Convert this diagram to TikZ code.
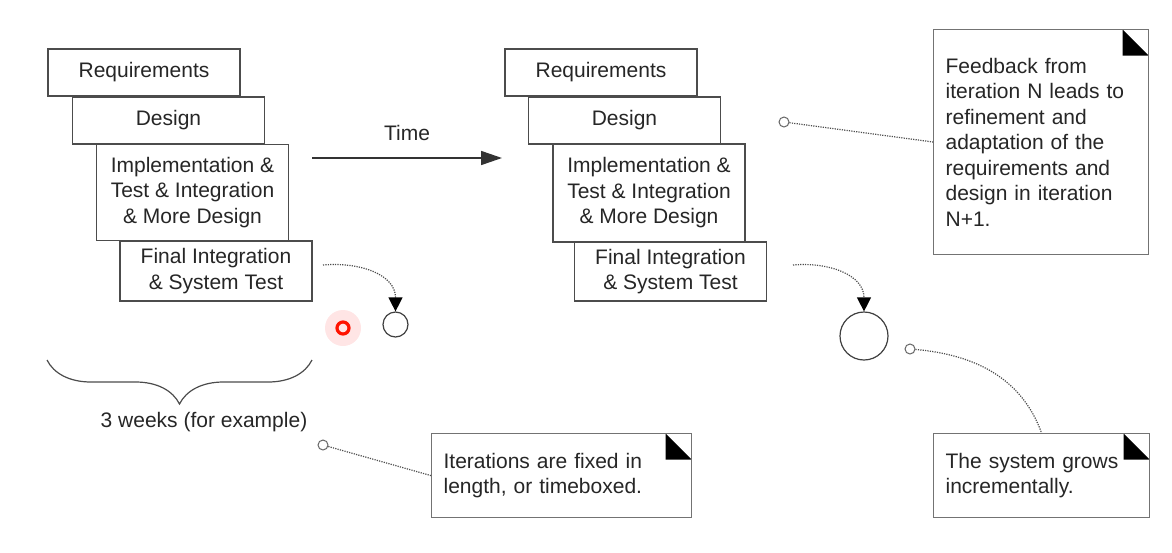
\documentclass[tikz,border=0pt]{standalone}
\usepackage{fontspec}
\setmainfont{Liberation Sans}
\usetikzlibrary{arrows.meta,positioning,calc,decorations.pathreplacing}

\tikzset{
  phase/.style={draw=black!70, line width=0.6pt, fill=white, text=black!85,
    minimum width=96pt, align=center, inner sep=2pt},
  notebox/.style={draw=black!55, line width=0.6pt, fill=white, text=black!85,
    align=left, inner sep=6pt, anchor=north west,
    path picture={\fill[black] ([xshift=-13pt]path picture bounding box.north east)
      -- ([xshift=-13pt,yshift=-13pt]path picture bounding box.north east)
      -- ([yshift=-13pt]path picture bounding box.north east) -- cycle;}},
  link/.style={black!70, line width=0.6pt, dash pattern=on 0.6pt off 0.6pt},
  notedot/.style={circle, draw=black!60, line width=0.5pt, fill=white,
    minimum size=5pt, inner sep=0pt},
  increment/.style={circle, draw=black!75, line width=0.6pt, inner sep=0pt},
}

\begin{document}
\begin{tikzpicture}[x=0.5pt, y=-0.5pt, font=\fontsize{10.5}{12.75}\selectfont]
    \useasboundingbox (0,0) rectangle (1172,552);

    % Iteration N
    \node[phase, minimum height=23.5pt] (reqA) at (144,72.5) {Requirements};
    \node[phase, minimum height=23.5pt] (desA) at (168.5,120.5) {Design};
    \node[phase, minimum height=48pt] (impA) at (192.5,192.5) {Implementation \&\\Test \& Integration\\\& More Design};
    \node[phase, minimum height=30pt] (finA) at (216,271) {Final Integration\\\& System Test};

    % Iteration N+1
    \node[phase, minimum height=23.5pt] (reqB) at (601,72.5) {Requirements};
    \node[phase, minimum height=23.5pt] (desB) at (624.5,120.5) {Design};
    \node[phase, minimum height=49pt] (impB) at (649,193) {Implementation \&\\Test \& Integration\\\& More Design};
    \node[phase, minimum height=29.5pt] (finB) at (670.5,271.5) {Final Integration\\\& System Test};

    % Time axis
    \coordinate (tStart) at (312,158);
    \coordinate (tEnd) at (502,158);
    \draw[-{Triangle[length=10.5pt,width=7pt]}, black!80, line width=0.8pt] (tStart) -- (tEnd);
    \node[text=black!85] (time) at (407,133) {Time};

    % Increments of the system
    \node[increment, minimum size=12.5pt] (incA) at (395.5,324.5) {};
    \node[increment, minimum size=24pt] (incB) at (864,336) {};
    \coordinate (outA) at (323,265);
    \coordinate (outB) at (793,265);
    \draw[link, -{Triangle[length=7pt,width=7pt,color=black]}] (outA) to[out=5, in=90, looseness=1.1] (incA.north);
    \draw[link, -{Triangle[length=7pt,width=7pt,color=black]}] (outB) to[out=5, in=90, looseness=1.1] (incB.north);

    % Pointer mark
    \fill[red!10] (343,328) circle (9pt);
    \node[circle, draw=red!85!orange, line width=1.6pt, inner sep=0pt, minimum size=6pt] (mark) at (343,328) {};

    % Duration of one iteration
    \coordinate (brR) at (312,360);
    \coordinate (brL) at (47,360);
    \draw[black!70, line width=0.6pt, decorate, decoration={brace, amplitude=22pt}] (brR) -- (brL);
    \node[text=black!85] (weeks) at (204,422) {3 weeks (for example)};

    % Notes
    \node[notebox, text width=95.5pt, minimum height=112.5pt] (fbNote) at (933,29)
      {Feedback from\\iteration N leads to\\refinement and\\adaptation of the\\requirements and\\design in iteration\\N+1.};
    \node[notebox, text width=118pt, minimum height=42pt] (itNote) at (431,433)
      {Iterations are fixed in\\length, or timeboxed.};
    \node[notebox, text width=96pt, minimum height=42pt] (sysNote) at (933,433)
      {The system grows\\incrementally.};

    \node[notedot] (fbDot) at (784,122) {};
    \node[notedot] (itDot) at (323,445) {};
    \node[notedot] (sysDot) at (910,349) {};
    \coordinate (fbEnd) at (933,142);
    \draw[link] (fbDot) -- (fbEnd);
    \draw[link] (itDot) -- (itNote.west);
    \draw[link] (sysDot) to[out=-5, in=110] (sysNote.north);
\end{tikzpicture}
\end{document}
